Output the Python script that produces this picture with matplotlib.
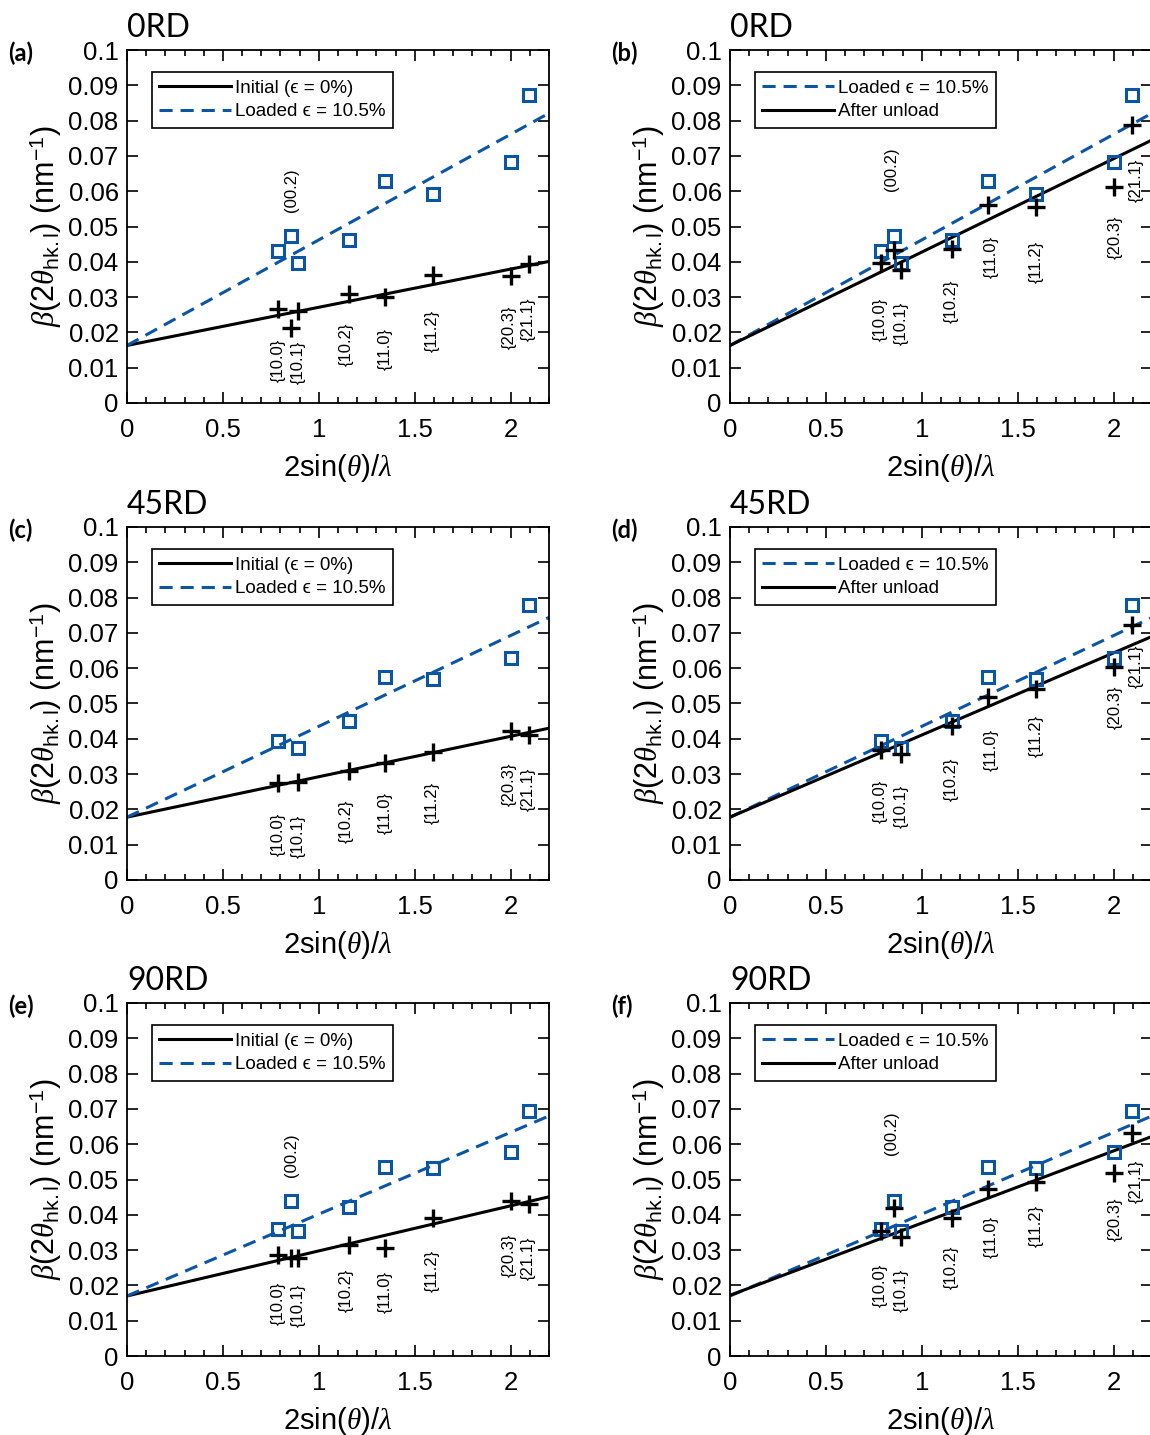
import numpy as np
import matplotlib
matplotlib.use("Agg")
import matplotlib.pyplot as plt
from matplotlib.ticker import FixedLocator

plt.rcParams['font.family'] = ['Liberation Sans', 'DejaVu Sans']
plt.rcParams['mathtext.fontset'] = 'custom'
plt.rcParams['mathtext.rm'] = 'Liberation Sans'
plt.rcParams['mathtext.it'] = 'Liberation Serif:italic'
plt.rcParams['mathtext.bf'] = 'Liberation Sans:bold'

# peak positions 2sin(theta)/lambda
x_hkl = [0.785, 0.855, 0.89, 1.155, 1.345, 1.595, 2.0, 2.095]
hkl_names = ['{10.0}', '(00.2)', '{10.1}', '{10.2}', '{11.0}', '{11.2}', '{20.3}', '{21.1}']
nan = np.nan

# peak widths (nm^-1)
loaded_0 = [0.0430, 0.0472, 0.0396, 0.0462, 0.0630, 0.0592, 0.0682, 0.0873]
initial_0 = [0.0266, 0.0212, 0.0262, 0.0309, 0.0299, 0.0364, 0.0361, 0.0394]
unload_0 = [0.0397, 0.0433, 0.0377, 0.0436, 0.0562, 0.0554, 0.0611, 0.0788]
loaded_45 = [0.0394, nan, 0.0373, 0.0451, 0.0574, 0.0570, 0.0629, 0.0780]
initial_45 = [0.0274, nan, 0.0279, 0.0309, 0.0331, 0.0362, 0.0422, 0.0411]
unload_45 = [0.0367, nan, 0.0357, 0.0436, 0.0518, 0.0540, 0.0602, 0.0723]
loaded_90 = [0.0359, 0.0440, 0.0354, 0.0423, 0.0534, 0.0532, 0.0578, 0.0693]
initial_90 = [0.0286, 0.0277, 0.0279, 0.0315, 0.0305, 0.0392, 0.0439, 0.0430]
unload_90 = [0.0353, 0.0419, 0.0336, 0.0390, 0.0473, 0.0494, 0.0518, 0.0633]

# linear fits, values at x = 0 and x = 2.2
fit_x = [0, 2.2]
fit_initial_0 = [0.0163, 0.0401]
fit_loaded_0 = [0.0163, 0.0821]
fit_unload_0 = [0.0163, 0.0745]
fit_initial_45 = [0.0178, 0.0430]
fit_loaded_45 = [0.0178, 0.0744]
fit_unload_45 = [0.0178, 0.0690]
fit_initial_90 = [0.0170, 0.0451]
fit_loaded_90 = [0.0170, 0.0680]
fit_unload_90 = [0.0172, 0.0622]

# hkl label positions
lab_x_left = [0.79, 0.857, 0.895, 1.143, 1.344, 1.59, 1.994, 2.09]
lab_x_right = [0.785, 0.84, 0.895, 1.153, 1.36, 1.594, 2.006, 2.117]
lab_y_a = [0.0120, 0.0604, 0.0115, 0.0165, 0.0153, 0.0204, 0.0215, 0.0236]
lab_y_b = [0.0236, 0.0661, 0.0225, 0.0288, 0.0415, 0.0400, 0.0470, 0.0630]
lab_y_c = [0.0128, nan, 0.0123, 0.0167, 0.0191, 0.0219, 0.0272, 0.0258]
lab_y_d = [0.0223, nan, 0.0209, 0.0284, 0.0369, 0.0409, 0.0489, 0.0605]
lab_y_e = [0.0149, 0.0570, 0.0143, 0.0186, 0.0182, 0.0241, 0.0285, 0.0276]
lab_y_f = [0.0201, 0.0631, 0.0185, 0.0252, 0.0338, 0.0368, 0.0386, 0.0496]

x_ticks = [0, 0.5, 1, 1.5, 2]
x_ticklabels = ['0', '0.5', '1', '1.5', '2']
x_minor = [0.1 * i for i in range(23)]
y_ticks = [0.01 * i for i in range(11)]
y_ticklabels = ['0', '0.01', '0.02', '0.03', '0.04', '0.05', '0.06', '0.07', '0.08', '0.09', '0.1']

titles = ['0RD', '45RD', '90RD']
letters = [['(a)', '(b)'], ['(c)', '(d)'], ['(e)', '(f)']]

blue = '#0a55a6'
lbl_initial = 'Initial (\u03f5 = 0%)'
lbl_loaded = 'Loaded \u03f5 = 10.5%'
lbl_unload = 'After unload'

rows = [
    dict(loaded=loaded_0, other_l=initial_0, other_r=unload_0,
         fl=fit_loaded_0, fi=fit_initial_0, fu=fit_unload_0, ly_l=lab_y_a, ly_r=lab_y_b),
    dict(loaded=loaded_45, other_l=initial_45, other_r=unload_45,
         fl=fit_loaded_45, fi=fit_initial_45, fu=fit_unload_45, ly_l=lab_y_c, ly_r=lab_y_d),
    dict(loaded=loaded_90, other_l=initial_90, other_r=unload_90,
         fl=fit_loaded_90, fi=fit_initial_90, fu=fit_unload_90, ly_l=lab_y_e, ly_r=lab_y_f),
]

W, H = 1150, 1435
fig = plt.figure(figsize=(W / 100, H / 100), dpi=100)

col_left = [127, 730]
row_top = [50, 527, 1003]
ax_w, ax_h = 422, 353

dash = (0, (4.3, 2.6))

for r, d in enumerate(rows):
    for c in range(2):
        ax = fig.add_axes([col_left[c] / W, 1 - (row_top[r] + ax_h) / H, ax_w / W, ax_h / H])
        if c == 0:
            l1, = ax.plot(fit_x, d['fi'], color='k', lw=2.2, label=lbl_initial, zorder=2)
            l2, = ax.plot(fit_x, d['fl'], color=blue, lw=2.2, ls=dash, label=lbl_loaded, zorder=2)
            handles = [l1, l2]
            other = d['other_l']
            lx, ly = lab_x_left, d['ly_l']
        else:
            l2, = ax.plot(fit_x, d['fl'], color=blue, lw=2.2, ls=dash, label=lbl_loaded, zorder=2)
            l1, = ax.plot(fit_x, d['fu'], color='k', lw=2.2, label=lbl_unload, zorder=2)
            handles = [l2, l1]
            other = d['other_r']
            lx, ly = lab_x_right, d['ly_r']

        ax.plot(x_hkl, d['loaded'], ls='none', marker='s', ms=8, mfc='none',
                mec=blue, mew=2.2, zorder=3)
        ax.plot(x_hkl, other, ls='none', marker='+', ms=13, mec='k', mew=2.4, zorder=4)

        for name, tx, ty in zip(hkl_names, lx, ly):
            if np.isnan(ty):
                continue
            ax.text(tx, ty, name, rotation=90, ha='center', va='center', fontsize=12)

        ax.set_xlim(0, 2.2)
        ax.set_ylim(0, 0.1)
        ax.xaxis.set_major_locator(FixedLocator(x_ticks))
        ax.xaxis.set_minor_locator(FixedLocator(x_minor))
        ax.set_xticklabels(x_ticklabels)
        ax.yaxis.set_major_locator(FixedLocator(y_ticks))
        ax.set_yticklabels(y_ticklabels)
        ax.tick_params(which='both', direction='in', top=True, right=True, width=1.2,
                       labelsize=18.5, colors='k')
        ax.tick_params(which='major', length=8)
        ax.tick_params(axis='x', which='major', pad=11)
        ax.tick_params(axis='y', which='major', pad=6)
        ax.tick_params(which='minor', length=4)
        for sp in ax.spines.values():
            sp.set_linewidth(1.3)

        ax.set_xlabel(r'2sin($\theta$)/$\lambda$', fontsize=21, labelpad=7)
        ax.set_ylabel(r'$\beta$(2$\theta_{\mathrm{hk.l}}$) (nm$^{-1}$)', fontsize=22, labelpad=3)

        leg = ax.legend(handles=handles, loc='upper left', bbox_to_anchor=(0.059, 0.937),
                        fontsize=13.5, handlelength=3.8, handletextpad=0.25,
                        borderpad=0.4, labelspacing=0.33, borderaxespad=0,
                        fancybox=False, framealpha=1)
        leg.get_frame().set_edgecolor('k')
        leg.get_frame().set_linewidth(1.2)

        ax.text(0, 1 + 13 / ax_h, titles[r], transform=ax.transAxes, ha='left',
                va='baseline', fontsize=23, family=['Lato', 'DejaVu Sans'])
        ax.text(-119 / ax_w, 1 - 3 / ax_h, letters[r][c], transform=ax.transAxes,
                ha='left', va='center', fontsize=17, fontweight='bold',
                family=['Lato', 'DejaVu Sans'])

fig.savefig('out.png', dpi=100)
